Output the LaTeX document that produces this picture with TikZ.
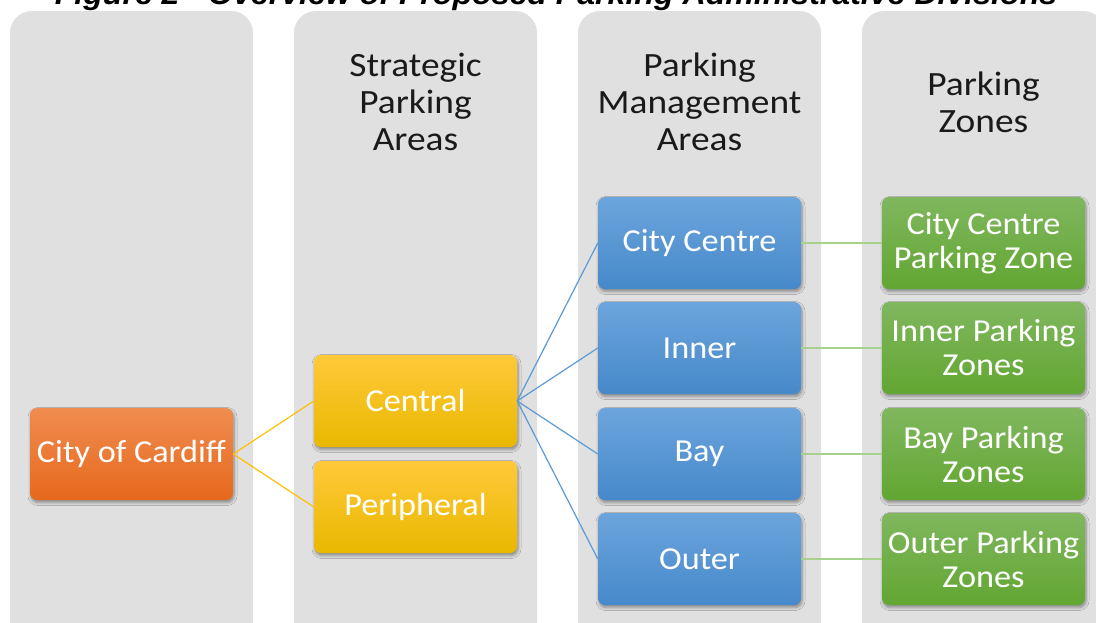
\documentclass[tikz,border=0pt]{standalone}
\usepackage{fontspec}
\setmainfont{Carlito}[FakeStretch=1.07]
\newfontfamily\hdfont{Carlito}[FakeStretch=1.1]
\newfontfamily\titlefont{Liberation Sans}[FakeStretch=1.07]
\usetikzlibrary{shadows,shadows.blur}
\definecolor{colbg}{HTML}{E0E0E0}
\definecolor{hdtext}{HTML}{1A1A1A}
\definecolor{orTop}{HTML}{F08C50}
\definecolor{orBot}{HTML}{E6691C}
\definecolor{yeTop}{HTML}{FFC93A}
\definecolor{yeBot}{HTML}{E9B800}
\definecolor{blTop}{HTML}{6CA5DD}
\definecolor{blBot}{HTML}{4689CA}
\definecolor{grTop}{HTML}{80B75E}
\definecolor{grBot}{HTML}{62A632}
\definecolor{yeLine}{HTML}{FFC000}
\definecolor{blLine}{HTML}{5B9BD5}
\definecolor{grLine}{HTML}{A9D18E}
\tikzset{
  colpanel/.style={fill=colbg, rounded corners=22pt},
  header/.style={align=center, text=hdtext, font=\hdfont\fontsize{34}{37}\selectfont},
  box/.style={rounded corners=7pt, minimum width=203pt, minimum height=92pt,
    inner sep=0pt, text=white, align=center, font=\fontsize{32}{34}\selectfont,
    blur shadow={shadow xshift=1pt, shadow yshift=-2.5pt, shadow blur radius=3pt, shadow blur steps=6, shadow opacity=40}},
  orbox/.style={box, top color=orTop, bottom color=orBot},
  yebox/.style={box, top color=yeTop, bottom color=yeBot},
  blbox/.style={box, top color=blTop, bottom color=blBot},
  grbox/.style={box, top color=grTop, bottom color=grBot},
  yelink/.style={draw=yeLine, line width=1.2pt},
  bllink/.style={draw=blLine, line width=1.2pt},
  grlink/.style={draw=grLine, line width=1.2pt},
}
\begin{document}
\begin{tikzpicture}[x=1pt,y=-1pt]
\useasboundingbox (0,0) rectangle (1096,622);
\clip (0,0) rectangle (1096,622);
\fill[white] (0,0) rectangle (1096,622);
% column panels
\fill[colpanel] (10,11) rectangle (253,660);
\fill[colpanel] (294,11) rectangle (537,660);
\fill[colpanel] (578,11) rectangle (821,660);
\fill[colpanel] (862,11) rectangle (1105,660);
% title (cut off at the top)
\node[anchor=base, font=\titlefont\bfseries\itshape\fontsize{30}{32}\selectfont] (title) at (556,4) {Figure 2 - Overview of Proposed Parking Administrative Divisions};
% headers
\node[header] (h2) at (415.5,102) {Strategic\\Parking\\Areas};
\node[header] (h3) at (699.5,102) {Parking\\Management\\Areas};
\node[header] (h4) at (983.5,102) {Parking\\Zones};
% boxes
\node[orbox] (cardiff) at (131.5,454) {City of Cardiff};
\node[yebox] (central) at (415.5,401) {Central};
\node[yebox] (periph) at (415.5,507) {Peripheral};
\node[blbox] (cc) at (699.5,243) {City Centre};
\node[blbox] (inner) at (699.5,348) {Inner};
\node[blbox] (bay) at (699.5,454) {Bay};
\node[blbox] (outer) at (699.5,559) {Outer};
\node[grbox] (zcc) at (983.5,243) {City Centre\\Parking Zone};
\node[grbox] (zinner) at (983.5,348) {Inner Parking\\Zones};
\node[grbox] (zbay) at (983.5,454) {Bay Parking\\Zones};
\node[grbox] (zouter) at (983.5,559) {Outer Parking\\Zones};
% connectors
\draw[yelink] (cardiff.east) -- (central.west);
\draw[yelink] (cardiff.east) -- (periph.west);
\draw[bllink] (central.east) -- (cc.west);
\draw[bllink] (central.east) -- (inner.west);
\draw[bllink] (central.east) -- (bay.west);
\draw[bllink] (central.east) -- (outer.west);
\draw[grlink] (cc.east) -- (zcc.west);
\draw[grlink] (inner.east) -- (zinner.west);
\draw[grlink] (bay.east) -- (zbay.west);
\draw[grlink] (outer.east) -- (zouter.west);
\end{tikzpicture}
\end{document}
